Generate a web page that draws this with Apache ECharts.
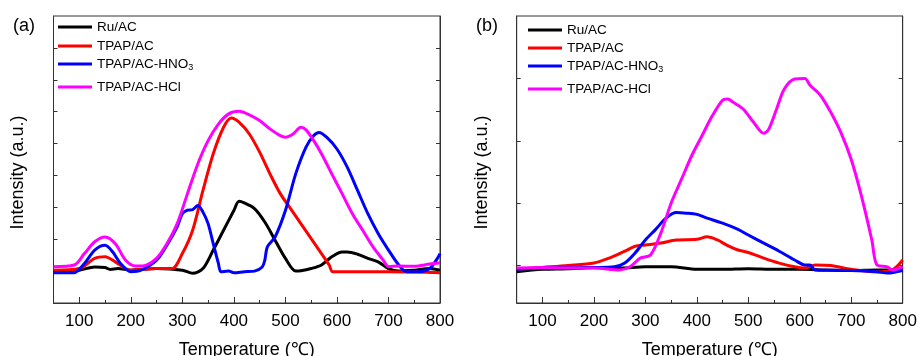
<!DOCTYPE html>
<html><head><meta charset="utf-8">
<script src="https://cdn.jsdelivr.net/npm/echarts@6/dist/echarts.min.js"></script>
<style>html,body{margin:0;padding:0;background:#fff}#c{width:919px;height:356px}</style>
</head><body><div id="c"></div>
<script>
// x tick labels
const xTicks = [100, 200, 300, 400, 500, 600, 700, 800];
const xMinorTicks = [150, 250, 350, 450, 550, 650, 750];
const seriesNames = ['Ru/AC', 'TPAP/AC', 'TPAP/AC-HNO3', 'TPAP/AC-HCl'];
const colors = ['#000000', '#ff0000', '#0000ff', '#ff00ff'];

// Panel (a) [temperature, intensity]
const a_Ru = [[50,0.98],[100,1.03],[130,1.13],[150,1.11],[160,1.05],[175,1.08],[200,1.03],[250,1.08],[300,1.03],[320,0.93],[340,1.08],[360,1.66],[380,2.28],[400,2.9],[410,3.19],[420,3.14],[440,2.96],[460,2.54],[480,1.97],[500,1.40],[520,1.0],[530,1.01],[550,1.08],[570,1.19],[590,1.45],[610,1.60],[620,1.60],[640,1.53],[660,1.40],[680,1.29],[700,1.08],[720,1.0],[750,1.03],[780,1.08],[800,1.03]];
const a_TPAP = [[50,1.03],[100,1.08],[130,1.40],[150,1.45],[170,1.29],[190,1.08],[200,1.03],[250,1.08],[280,1.08],[300,1.55],[320,2.28],[340,3.53],[360,4.68],[380,5.51],[395,5.8],[410,5.67],[430,5.30],[450,4.73],[470,4.05],[490,3.43],[510,2.96],[530,2.49],[550,2.02],[570,1.55],[585,1.19],[592,0.98],[650,0.98],[700,0.98],[750,0.97],[800,0.95]];
const a_HNO3 = [[50,0.95],[90,0.95],[110,1.24],[130,1.66],[150,1.81],[165,1.60],[180,1.24],[200,0.98],[220,1.03],[250,1.34],[270,1.81],[290,2.39],[300,2.80],[310,2.91],[320,2.93],[330,3.06],[340,2.85],[350,2.49],[360,1.86],[370,1.24],[375,0.98],[390,1.0],[400,0.95],[420,0.98],[440,1.0],[455,1.13],[460,1.34],[465,1.76],[480,2.07],[500,2.9],[520,4.05],[540,4.89],[555,5.25],[565,5.35],[580,5.2],[600,4.83],[620,4.26],[640,3.53],[660,2.80],[680,2.18],[700,1.66],[720,1.19],[735,0.98],[760,0.98],[780,1.08],[795,1.40],[800,1.55]];
const a_HCl = [[50,1.14],[90,1.19],[110,1.55],[130,1.92],[150,2.07],[170,1.86],[190,1.34],[210,1.16],[230,1.19],[250,1.40],[270,1.86],[290,2.49],[310,3.43],[330,4.36],[350,5.09],[370,5.61],[390,5.93],[410,6.01],[430,5.9],[450,5.72],[470,5.46],[490,5.25],[500,5.2],[515,5.3],[530,5.51],[540,5.43],[555,5.09],[570,4.68],[590,4.05],[610,3.43],[630,2.80],[650,2.28],[670,1.76],[690,1.34],[700,1.14],[720,1.16],[750,1.15],[780,1.22],[800,1.26]];

// Panel (b) [temperature, intensity]
const b_Ru = [[50,-0.1],[100,-0.06],[150,-0.05],[200,-0.03],[250,-0.04],[300,-0.02],[350,-0.02],[400,-0.06],[450,-0.06],[500,-0.05],[550,-0.06],[600,-0.06],[650,-0.07],[700,-0.08],[750,-0.07],[800,-0.07]];
const b_TPAP = [[50,-0.06],[100,-0.03],[150,0],[200,0.04],[230,0.12],[260,0.23],[280,0.31],[300,0.33],[330,0.36],[360,0.41],[400,0.42],[420,0.46],[440,0.41],[460,0.32],[480,0.25],[500,0.21],[530,0.12],[560,0.04],[590,-0.02],[610,-0.04],[630,0.01],[660,0],[700,-0.06],[750,-0.1],[780,-0.07],[800,0.09]];
const b_HNO3 = [[50,-0.06],[100,-0.04],[200,-0.03],[240,-0.02],[260,0.04],[280,0.2],[300,0.41],[320,0.58],[340,0.76],[360,0.85],[380,0.84],[400,0.82],[420,0.76],[450,0.68],[480,0.58],[500,0.49],[530,0.36],[560,0.23],[590,0.09],[610,0.01],[620,0.01],[630,-0.07],[700,-0.08],[750,-0.1],[770,-0.12],[800,-0.08]];
const b_HCl = [[50,-0.04],[100,-0.03],[150,-0.04],[200,-0.04],[250,-0.07],[270,-0.02],[290,0.12],[310,0.17],[330,0.52],[350,1.0],[370,1.38],[390,1.76],[410,2.08],[430,2.4],[450,2.65],[460,2.67],[470,2.62],[490,2.51],[510,2.30],[530,2.12],[540,2.19],[555,2.51],[570,2.83],[590,2.99],[610,3.0],[620,2.89],[640,2.73],[660,2.46],[680,2.13],[700,1.70],[720,1.11],[740,0.41],[750,0.01],[770,-0.02],[780,-0.07],[800,-0.02]];

const panelA = [a_Ru, a_TPAP, a_HNO3, a_HCl];
const panelB = [b_Ru, b_TPAP, b_HNO3, b_HCl];

const FONT = 'Liberation Sans, Arial, sans-serif';
const axisCol = '#333';

function xAxis(gi) {
  return {
    type: 'value', gridIndex: gi, min: 50, max: 800,
    axisLine: {show: true, onZero: false, lineStyle: {color: axisCol, width: 1}},
    axisTick: {show: true, inside: true, length: 6, lineStyle: {color: axisCol}, customValues: xTicks},
    axisLabel: {show: true, fontFamily: FONT, fontSize: 17, color: '#000', margin: 10, customValues: xTicks},
    splitLine: {show: false},
    name: 'Temperature (\u2103)', nameLocation: 'middle', nameGap: 38,
    nameTextStyle: {fontFamily: FONT, fontSize: 18, color: '#000'}
  };
}
function xMinorAxis(gi) {
  return {
    type: 'value', gridIndex: gi, min: 50, max: 800, position: 'bottom',
    axisLine: {show: false, onZero: false},
    axisTick: {show: true, inside: true, length: 3, lineStyle: {color: axisCol}, customValues: xMinorTicks},
    axisLabel: {show: false},
    splitLine: {show: false}
  };
}
function yAxis(gi, pos, min, max, ticks, named) {
  return {
    type: 'value', gridIndex: gi, position: pos, min: min, max: max,
    axisLine: {show: true, onZero: false, lineStyle: {color: axisCol, width: 1}},
    axisTick: {show: true, inside: true, length: 4, lineStyle: {color: axisCol}, customValues: ticks},
    axisLabel: {show: false},
    splitLine: {show: false},
    name: named ? 'Intensity (a.u.)' : '', nameLocation: 'middle', nameGap: 26,
    nameTextStyle: {fontFamily: FONT, fontSize: 18, color: '#000', padding: [0, 26, 0, 0]}
  };
}

const series = [];
panelA.forEach((d, i) => series.push({type: 'line', name: seriesNames[i], xAxisIndex: 0, yAxisIndex: 0, data: d,
  showSymbol: false, smooth: 0.3, lineStyle: {color: colors[i], width: 3}, itemStyle: {color: colors[i]}, z: 2 + i}));
panelB.forEach((d, i) => series.push({type: 'line', name: seriesNames[i], xAxisIndex: 1, yAxisIndex: 2, data: d,
  showSymbol: false, smooth: 0.3, lineStyle: {color: colors[i], width: 3}, itemStyle: {color: colors[i]}, z: 2 + i}));

const legRowsA = [28, 47, 65, 88];
const legRowsB = [31, 49, 67, 90];
const legends = [];
function addLegends(left, rows) {
  rows.forEach((y, i) => legends.push({
    data: [seriesNames[i]], left: left, top: y - 8, padding: 0, icon: 'rect', itemWidth: 34, itemHeight: 3,
    selectedMode: false,
    formatter: n => n === 'TPAP/AC-HNO3' ? 'TPAP/AC-HNO{sub|3}' : n,
    textStyle: {fontFamily: FONT, fontSize: 13.5, color: '#000',
      rich: {sub: {fontFamily: FONT, fontSize: 9, color: '#000', padding: [8, 0, 0, 0]}}}
  }));
}
addLegends(58, legRowsA);
addLegends(528, legRowsB);

const chart = echarts.init(document.getElementById('c'), null, {renderer: 'canvas'});
chart.setOption({
  animation: false,
  backgroundColor: '#fff',
  grid: [
    {left: 53.5, right: 479, top: 16, bottom: 53, show: true, borderColor: axisCol, borderWidth: 1, outerBoundsMode: 'none', containLabel: false},
    {left: 516.7, right: 16.3, top: 16, bottom: 53, show: true, borderColor: axisCol, borderWidth: 1, outerBoundsMode: 'none', containLabel: false}
  ],
  xAxis: [xAxis(0), xAxis(1), xMinorAxis(0), xMinorAxis(1)],
  yAxis: [
    yAxis(0, 'left', 0, 9, [1,2,3,4,5,6,7,8], true),
    yAxis(0, 'right', 0, 9, [1,2,3,4,5,6,7,8], false),
    yAxis(1, 'left', -0.6, 4, [0,1,2,3], true),
    yAxis(1, 'right', -0.6, 4, [0,1,2,3], false)
  ],
  legend: legends,
  graphic: [
    {type: 'text', left: 13, top: 17, style: {text: '(a)', fontFamily: FONT, fontSize: 18, fill: '#000'}},
    {type: 'text', left: 476, top: 17, style: {text: '(b)', fontFamily: FONT, fontSize: 18, fill: '#000'}}
  ],
  series: series
});
</script></body></html>
